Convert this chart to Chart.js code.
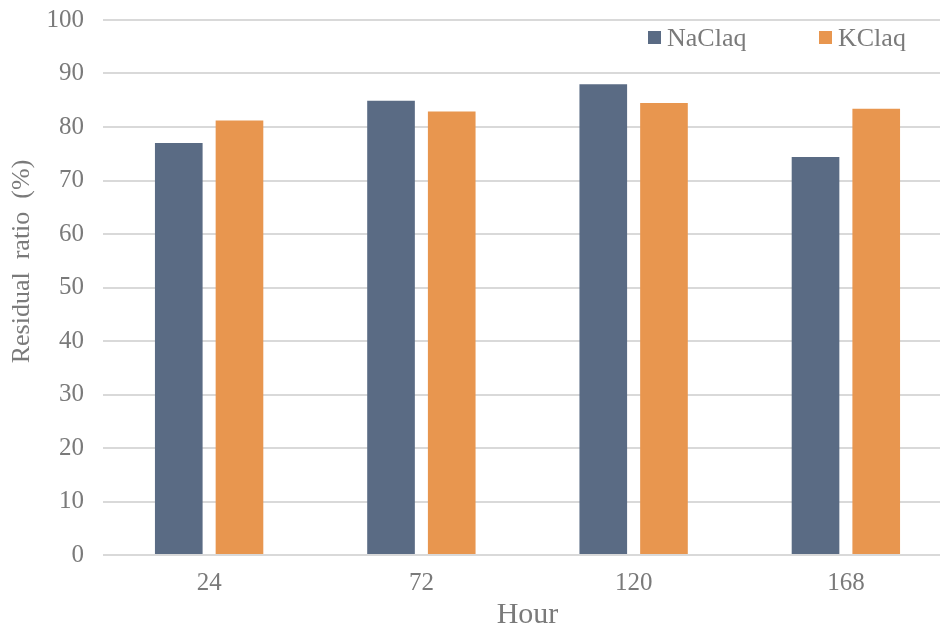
<!DOCTYPE html>
<html>
<head>
<meta charset="utf-8">
<script src="https://cdn.jsdelivr.net/npm/chart.js@4"></script>
<style>
  html, body { margin: 0; padding: 0; background: #fff; overflow: hidden; }
  #wrap { position: relative; width: 954px; height: 630px; }
</style>
</head>
<body>
<div id="wrap"><canvas id="c" width="954" height="630"></canvas></div>
<script>
// Residual ratio after immersion, by hour
const hours = ['24', '72', '120', '168'];
const naclValues = [77.0, 84.9, 88.0, 74.4];
const kclValues = [81.2, 82.9, 84.5, 83.4];
const seriesNames = ['NaClaq', 'KClaq'];

const NA_COLOR = '#5a6b84';
const K_COLOR = '#e8964f';
const TEXT = '#7a7a7a';
const GRID = '#d9d9d9';
const FONT = '"Liberation Serif", "Times New Roman", serif';

// Legend drawn inside the plot area, top right
const innerLegend = {
  id: 'innerLegend',
  afterDraw(chart) {
    const ctx = chart.ctx;
    const xs = [648, 819];
    ctx.save();
    ctx.font = '26px ' + FONT;
    ctx.textBaseline = 'alphabetic';
    ctx.textAlign = 'left';
    chart.data.datasets.forEach((ds, i) => {
      ctx.fillStyle = ds.backgroundColor;
      ctx.fillRect(xs[i], 31, 13, 13);
      ctx.fillStyle = TEXT;
      ctx.fillText(ds.label, xs[i] + 19, 46);
    });
    ctx.restore();
  }
};

new Chart(document.getElementById('c'), {
  type: 'bar',
  data: {
    labels: hours,
    datasets: [
      { label: seriesNames[0], data: naclValues, backgroundColor: NA_COLOR },
      { label: seriesNames[1], data: kclValues, backgroundColor: K_COLOR }
    ]
  },
  options: {
    responsive: false,
    animation: false,
    layout: { padding: { left: 0, right: 2, top: 0, bottom: 0 } },
    plugins: {
      legend: { display: false },
      tooltip: { enabled: false }
    },
    datasets: {
      bar: { categoryPercentage: 0.572, barPercentage: 0.785 }
    },
    scales: {
      x: {
        grid: { display: false, drawTicks: false },
        border: { display: false },
        ticks: { color: TEXT, font: { family: FONT, size: 25 }, padding: 13 },
        title: { display: true, text: 'Hour', color: TEXT, font: { family: FONT, size: 30, lineHeight: 1.0 }, padding: { top: 0, bottom: 0 } },
        afterFit(scale) { scale.height = 75; }
      },
      y: {
        min: 0, max: 100,
        ticks: { stepSize: 10, color: TEXT, font: { family: FONT, size: 25 }, padding: 19 },
        grid: { color: GRID, lineWidth: 2, drawTicks: false },
        border: { display: false },
        title: { display: true, text: '        Residual  ratio  (%)', color: TEXT, font: { family: FONT, size: 26, lineHeight: 1.0 }, padding: { top: 9, bottom: 0 } },
        afterFit(scale) {
          scale.width = 103;
          // keep the top tick label's reserve small so the plot starts near the top edge
          scale.paddingTop = 20;
        }
      }
    }
  },
  plugins: [innerLegend]
});
</script>
</body>
</html>
